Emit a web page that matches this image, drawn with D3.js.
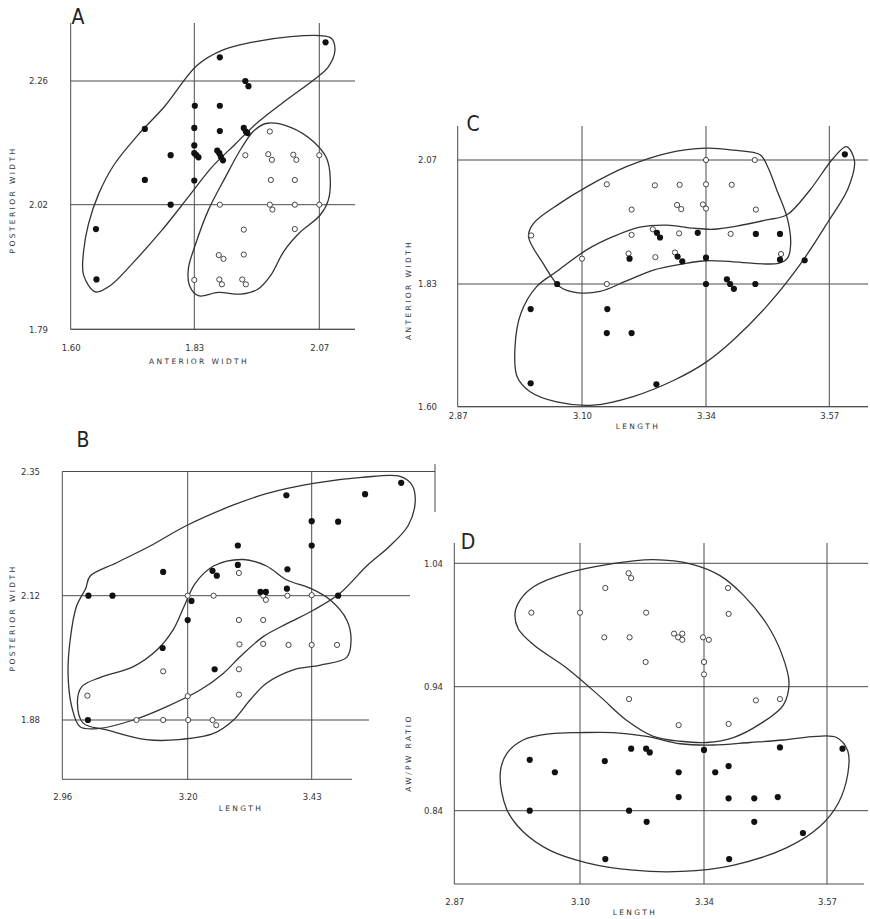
<!DOCTYPE html>
<html>
<head>
<meta charset="utf-8">
<script src="https://cdn.jsdelivr.net/npm/d3@7"></script>
<style>
  body { margin: 0; background: #fff; }
  svg { display: block; }
  .tick text { font-family: "DejaVu Sans", sans-serif; font-size: 8.5px; fill: #333; }
  .title { font-family: "DejaVu Sans", sans-serif; font-size: 7.5px; letter-spacing: 2.4px; fill: #333; }
  .letter { font-family: "DejaVu Sans Condensed", "Liberation Sans Narrow", sans-serif; font-size: 21px; fill: #222; }
</style>
</head>
<body>
<div id="chart"></div>
<script>
// ---- panel A : posterior width vs anterior width
const aXTicks = [1.60, 1.83, 2.07];
const aYTicks = [1.79, 2.02, 2.26];
const aFilled = [[2.082,2.335],[1.879,2.306],[1.928,2.26],[1.934,2.250],[1.831,2.212],[1.879,2.212],[1.738,2.167],[1.83,2.169],[1.879,2.163],[1.925,2.169],[1.929,2.162],[1.932,2.159],[1.83,2.135],[1.83,2.120],[1.834,2.116],[1.838,2.112],[1.874,2.125],[1.878,2.120],[1.881,2.113],[1.885,2.106],[1.786,2.116],[1.738,2.068],[1.83,2.067],[1.786,2.02],[1.647,1.975],[1.648,1.882]];
const aOpen = [[1.975,2.162],[1.928,2.116],[1.972,2.118],[1.979,2.107],[2.020,2.117],[2.026,2.107],[2.07,2.116],[1.977,2.068],[2.023,2.068],[1.879,2.02],[1.975,2.02],[1.980,2.011],[2.023,2.02],[2.07,2.02],[1.925,1.974],[2.023,1.975],[1.877,1.927],[1.886,1.920],[1.925,1.928],[1.83,1.881],[1.878,1.882],[1.883,1.873],[1.922,1.882],[1.929,1.873]];
const aFilledHull = [[1.646,1.859],[1.624,1.890],[1.624,1.934],[1.633,1.984],[1.652,2.041],[1.681,2.098],[1.725,2.155],[1.775,2.211],[1.835,2.290],[1.882,2.319],[1.945,2.336],[2.015,2.346],[2.071,2.348],[2.093,2.343],[2.100,2.319],[2.087,2.287],[2.059,2.262],[2.008,2.224],[1.952,2.180],[1.907,2.136],[1.863,2.092],[1.819,2.035],[1.769,1.972],[1.718,1.915],[1.674,1.871]];
const aOpenHull = [[1.970,2.178],[2.015,2.170],[2.059,2.142],[2.084,2.110],[2.091,2.072],[2.087,2.028],[2.071,2.000],[2.033,1.969],[2.002,1.934],[1.977,1.890],[1.952,1.864],[1.920,1.855],[1.876,1.858],[1.838,1.852],[1.821,1.871],[1.819,1.902],[1.832,1.946],[1.857,2.010],[1.889,2.072],[1.920,2.129],[1.945,2.164]];

// ---- panel B : posterior width vs length
const bXTicks = [2.96, 3.20, 3.43];
const bYTicks = [1.88, 2.12, 2.35];
const bFilled = [[3.596,2.329],[3.529,2.308],[3.383,2.306],[3.43,2.258],[3.479,2.257],[3.293,2.213],[3.43,2.213],[3.153,2.164],[3.246,2.166],[3.254,2.157],[3.293,2.177],[3.385,2.169],[3.384,2.133],[3.335,2.127],[3.345,2.127],[3.010,2.12],[3.056,2.12],[3.207,2.110],[3.20,2.073],[3.479,2.12],[3.152,2.019],[3.250,1.978],[3.009,1.88]];
const bOpen = [[3.295,2.162],[3.20,2.12],[3.248,2.12],[3.340,2.12],[3.345,2.112],[3.385,2.12],[3.43,2.121],[3.295,2.073],[3.340,2.073],[3.296,2.026],[3.340,2.027],[3.387,2.025],[3.43,2.025],[3.477,2.025],[3.153,1.974],[3.295,1.978],[3.008,1.927],[3.20,1.926],[3.295,1.929],[3.102,1.88],[3.153,1.88],[3.201,1.88],[3.246,1.88],[3.253,1.870]];
const bFilledHull = [[3.013,2.156],[3.064,2.181],[3.128,2.212],[3.198,2.250],[3.285,2.288],[3.346,2.309],[3.433,2.328],[3.523,2.339],[3.594,2.341],[3.616,2.325],[3.622,2.294],[3.609,2.250],[3.575,2.212],[3.532,2.175],[3.482,2.124],[3.433,2.092],[3.384,2.066],[3.340,2.041],[3.297,2.002],[3.266,1.970],[3.223,1.938],[3.160,1.906],[3.096,1.880],[3.032,1.864],[2.994,1.867],[2.978,1.906],[2.971,1.970],[2.975,2.034],[2.987,2.099],[3.005,2.134]];
const bOpenHull = [[3.303,2.187],[3.346,2.175],[3.384,2.149],[3.427,2.134],[3.464,2.112],[3.495,2.073],[3.503,2.034],[3.495,2.001],[3.446,1.986],[3.396,1.977],[3.346,1.951],[3.316,1.919],[3.285,1.880],[3.248,1.854],[3.183,1.842],[3.121,1.842],[3.045,1.861],[3.000,1.874],[2.989,1.912],[2.997,1.944],[3.032,1.962],[3.096,1.983],[3.141,2.015],[3.172,2.054],[3.193,2.099],[3.214,2.143],[3.248,2.175]];

// ---- panel C : anterior width vs length
const cXTicks = [2.87, 3.10, 3.34, 3.57];
const cYTicks = [1.60, 1.83, 2.07];
const cFilled = [[3.599,2.081],[3.245,1.929],[3.251,1.920],[3.324,1.929],[3.433,1.927],[3.478,1.927],[3.192,1.879],[3.285,1.883],[3.294,1.874],[3.34,1.881],[3.478,1.877],[3.524,1.876],[3.054,1.83],[3.34,1.83],[3.379,1.839],[3.385,1.83],[3.392,1.821],[3.432,1.83],[3.005,1.783],[3.149,1.783],[3.148,1.738],[3.196,1.738],[3.005,1.644],[3.244,1.642]];
const cOpen = [[3.34,2.07],[3.431,2.07],[3.148,2.023],[3.241,2.021],[3.289,2.022],[3.34,2.023],[3.388,2.022],[3.196,1.974],[3.284,1.983],[3.292,1.975],[3.334,1.984],[3.34,1.976],[3.433,1.974],[3.006,1.924],[3.196,1.925],[3.237,1.936],[3.288,1.928],[3.386,1.927],[3.10,1.879],[3.190,1.889],[3.242,1.882],[3.280,1.891],[3.480,1.888],[3.148,1.83]];
const cOpenHull = [[3.001,1.922],[3.010,1.947],[3.059,1.986],[3.109,2.018],[3.186,2.057],[3.264,2.083],[3.341,2.093],[3.391,2.089],[3.441,2.080],[3.455,2.057],[3.472,2.012],[3.491,1.960],[3.498,1.909],[3.492,1.880],[3.475,1.870],[3.391,1.873],[3.341,1.875],[3.296,1.869],[3.238,1.857],[3.186,1.836],[3.135,1.816],[3.090,1.814],[3.059,1.825],[3.028,1.870]];
const cFilledHull = [[3.602,2.096],[3.617,2.068],[3.605,2.015],[3.568,1.951],[3.515,1.867],[3.453,1.788],[3.391,1.725],[3.341,1.684],[3.279,1.650],[3.199,1.619],[3.122,1.603],[3.053,1.609],[3.004,1.628],[2.980,1.656],[2.976,1.712],[2.987,1.775],[3.016,1.825],[3.053,1.854],[3.109,1.896],[3.161,1.922],[3.212,1.940],[3.264,1.944],[3.315,1.938],[3.354,1.936],[3.397,1.942],[3.453,1.954],[3.491,1.964],[3.534,2.012],[3.577,2.073]];

// ---- panel D : AW/PW ratio vs length
const dXTicks = [2.87, 3.10, 3.34, 3.57];
const dYTicks = [0.84, 0.94, 1.04];
const dOpen = [[3.194,1.032],[3.199,1.028],[3.149,1.020],[3.385,1.020],[3.011,1.000],[3.10,1.000],[3.228,1.000],[3.386,0.999],[3.147,0.980],[3.196,0.980],[3.282,0.983],[3.290,0.980],[3.298,0.983],[3.298,0.978],[3.338,0.980],[3.349,0.978],[3.227,0.960],[3.34,0.960],[3.34,0.950],[3.195,0.930],[3.437,0.929],[3.482,0.930],[3.291,0.909],[3.386,0.910]];
const dFilled = [[3.199,0.890],[3.228,0.890],[3.235,0.887],[3.34,0.889],[3.482,0.891],[3.599,0.890],[3.008,0.881],[3.148,0.880],[3.054,0.871],[3.291,0.871],[3.361,0.871],[3.386,0.876],[3.291,0.851],[3.386,0.850],[3.434,0.850],[3.478,0.851],[3.008,0.84],[3.195,0.84],[3.229,0.831],[3.434,0.831],[3.525,0.822],[3.149,0.801],[3.387,0.801]];
const dOpenHull = [[2.981,0.999],[2.990,1.010],[3.015,1.021],[3.076,1.032],[3.152,1.039],[3.242,1.043],[3.319,1.039],[3.370,1.030],[3.414,1.014],[3.457,0.991],[3.485,0.967],[3.499,0.943],[3.488,0.925],[3.445,0.910],[3.395,0.899],[3.345,0.895],[3.294,0.896],[3.242,0.900],[3.190,0.913],[3.139,0.932],[3.076,0.955],[3.015,0.974],[2.987,0.987]];
const dFilledHull = [[2.954,0.870],[2.966,0.886],[2.996,0.897],[3.045,0.902],[3.10,0.903],[3.165,0.903],[3.229,0.900],[3.294,0.894],[3.357,0.893],[3.426,0.895],[3.488,0.897],[3.550,0.900],[3.588,0.899],[3.609,0.888],[3.609,0.870],[3.591,0.846],[3.556,0.827],[3.494,0.810],[3.394,0.796],[3.297,0.791],[3.203,0.792],[3.113,0.798],[3.045,0.808],[2.996,0.823],[2.966,0.841]];

const width = 870;
const height = 919;

const panels = [
  { letter: "A", letterPos: [78, 16], xTicks: aXTicks, yTicks: aYTicks,
    xRange: [70.7, 194.3, 319.3], yRange: [329.3, 204.7, 81],
    top: 23, bottom: 329.3, bottomEnd: 355, hEnds: [355, 355, 355],
    xLabelY: 350, yLabelX: 48, xTitle: "ANTERIOR WIDTH", xTitlePos: [199, 364],
    yTitle: "POSTERIOR WIDTH", yTitlePos: [12, 200],
    filled: aFilled, open: aOpen, hulls: [aFilledHull, aOpenHull] },
  { letter: "B", letterPos: [83, 439], xTicks: bXTicks, yTicks: bYTicks,
    xRange: [62.3, 187.7, 311.7], yRange: [720, 595.7, 471.5],
    top: 471.5, bottom: 779.3, bottomEnd: 352, hEnds: [369, 410, 435],
    xLabelY: 799, yLabelX: 40, xTitle: "LENGTH", xTitlePos: [241, 811],
    yTitle: "POSTERIOR WIDTH", yTitlePos: [12, 618],
    filled: bFilled, open: bOpen, hulls: [bFilledHull, bOpenHull],
    extraTick: [435, 464, 512] },
  { letter: "C", letterPos: [473, 123], xTicks: cXTicks, yTicks: cYTicks,
    xRange: [457.7, 582, 706, 829.3], yRange: [406.7, 284, 160],
    top: 126, bottom: 406.7, bottomEnd: 868, hEnds: [868, 868, 868],
    xLabelY: 418, yLabelX: 437, xTitle: "LENGTH", xTitlePos: [638, 429],
    yTitle: "ANTERIOR WIDTH", yTitlePos: [408, 290],
    filled: cFilled, open: cOpen, hulls: [cOpenHull, cFilledHull] },
  { letter: "D", letterPos: [468, 541], xTicks: dXTicks, yTicks: dYTicks,
    xRange: [454.3, 580, 704, 827], yRange: [810.7, 686.7, 563.3],
    top: 543, bottom: 884, bottomEnd: 864, hEnds: [868, 868, 868],
    xLabelY: 904, yLabelX: 443, xTitle: "LENGTH", xTitlePos: [635, 915],
    yTitle: "AW/PW RATIO", yTitlePos: [408, 753],
    filled: dFilled, open: dOpen, hulls: [dOpenHull, dFilledHull] }
];

const svg = d3.select("#chart")
  .append("svg")
  .attr("width", width)
  .attr("height", height);

const lineColor = "#4a4a4a";

panels.forEach((p) => {
  const g = svg.append("g");
  const x = d3.scaleLinear().domain(p.xTicks).range(p.xRange);
  const y = d3.scaleLinear().domain(p.yTicks).range(p.yRange);
  const left = p.xRange[0];

  // frame + grid
  g.append("line")
    .attr("x1", left).attr("x2", left)
    .attr("y1", p.top).attr("y2", p.bottom)
    .attr("stroke", lineColor).attr("stroke-width", 1);
  g.append("line")
    .attr("x1", left).attr("x2", p.bottomEnd)
    .attr("y1", p.bottom).attr("y2", p.bottom)
    .attr("stroke", lineColor).attr("stroke-width", 1);
  p.xTicks.slice(1).forEach((t) => {
    g.append("line")
      .attr("x1", x(t)).attr("x2", x(t))
      .attr("y1", p.top).attr("y2", p.bottom)
      .attr("stroke", lineColor).attr("stroke-width", 1);
  });
  p.yTicks.forEach((t, i) => {
    g.append("line")
      .attr("x1", left).attr("x2", p.hEnds[i])
      .attr("y1", y(t)).attr("y2", y(t))
      .attr("stroke", lineColor).attr("stroke-width", 1);
  });
  if (p.extraTick) {
    g.append("line")
      .attr("x1", p.extraTick[0]).attr("x2", p.extraTick[0])
      .attr("y1", p.extraTick[1]).attr("y2", p.extraTick[2])
      .attr("stroke", lineColor).attr("stroke-width", 1);
  }

  // tick labels through d3 axes
  const xAxis = d3.axisBottom(x).tickValues(p.xTicks).tickSize(0).tickFormat(d3.format(".2f"));
  const gx = g.append("g")
    .attr("transform", `translate(0, ${p.xLabelY - 8})`)
    .call(xAxis);
  gx.select(".domain").remove();

  const yAxis = d3.axisLeft(y).tickValues(p.yTicks).tickSize(0).tickFormat(d3.format(".2f"));
  const gy = g.append("g")
    .attr("transform", `translate(${p.yLabelX + 3}, 0)`)
    .call(yAxis);
  gy.select(".domain").remove();

  // axis titles
  g.append("text")
    .attr("class", "title")
    .attr("x", p.xTitlePos[0]).attr("y", p.xTitlePos[1])
    .attr("text-anchor", "middle")
    .text(p.xTitle);
  g.append("text")
    .attr("class", "title")
    .attr("transform", `translate(${p.yTitlePos[0]}, ${p.yTitlePos[1]}) rotate(-90)`)
    .attr("text-anchor", "middle")
    .attr("dy", "0.35em")
    .text(p.yTitle);

  // panel letter
  g.append("text")
    .attr("class", "letter")
    .attr("x", p.letterPos[0]).attr("y", p.letterPos[1])
    .attr("text-anchor", "middle")
    .attr("dy", "0.36em")
    .text(p.letter);

  // envelopes
  const hull = d3.line()
    .x((d) => x(d[0]))
    .y((d) => y(d[1]))
    .curve(d3.curveCatmullRomClosed.alpha(0.5));
  g.selectAll(".hull")
    .data(p.hulls)
    .enter()
    .append("path")
    .attr("d", hull)
    .attr("fill", "none")
    .attr("stroke", "#333")
    .attr("stroke-width", 1.3);

  // points
  g.selectAll(".open")
    .data(p.open)
    .enter()
    .append("circle")
    .attr("cx", (d) => x(d[0]))
    .attr("cy", (d) => y(d[1]))
    .attr("r", 2.6)
    .attr("fill", "#fff")
    .attr("stroke", "#333")
    .attr("stroke-width", 0.9);
  g.selectAll(".filled")
    .data(p.filled)
    .enter()
    .append("circle")
    .attr("cx", (d) => x(d[0]))
    .attr("cy", (d) => y(d[1]))
    .attr("r", 3.1)
    .attr("fill", "#111");
});
</script>
</body>
</html>
